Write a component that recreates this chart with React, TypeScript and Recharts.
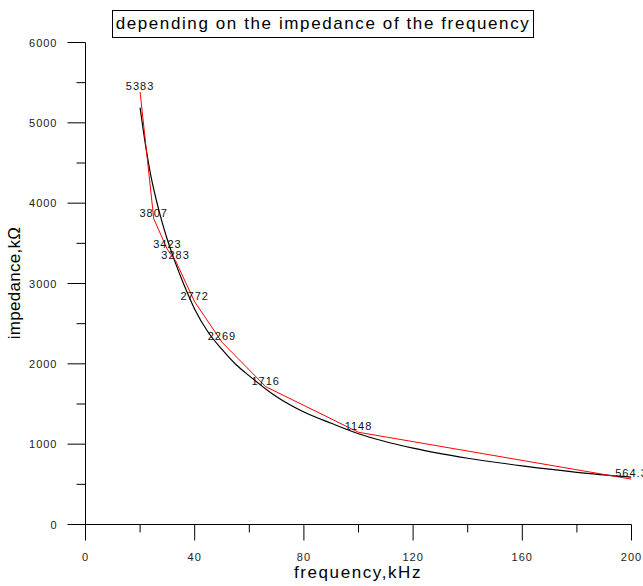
import React from 'react';
import { LineChart, Line, XAxis, YAxis, LabelList, Label } from 'recharts';

// measured points (red)
const measuredFreq = [20, 25, 30, 33, 40, 50, 66, 100, 200];
const measuredImp = [5383, 3807, 3423, 3283, 2772, 2269, 1716, 1148, 564.3];

// fitted curve (black)
const fitFreq = [20, 22, 24, 26, 28, 30, 33, 36, 40, 45, 50, 55, 60, 70, 80, 90, 100, 120, 140, 160, 180, 200];
const fitImp = [5190, 4720, 4330, 4030, 3770, 3545, 3250, 2990, 2680, 2390, 2180, 1995, 1850, 1590, 1400, 1260, 1130, 950, 825, 730, 650, 590];

const xTicks = [0, 20, 40, 60, 80, 100, 120, 140, 160, 180, 200];
const xLabelTicks = [0, 40, 80, 120, 160, 200];
const yTicks = [0, 500, 1000, 1500, 2000, 2500, 3000, 3500, 4000, 4500, 5000, 5500, 6000];
const yLabelTicks = [0, 1000, 2000, 3000, 4000, 5000, 6000];

const measured = measuredFreq.map((x, i) => ({ x, y: measuredImp[i] }));
const fit = fitFreq.map((x, i) => ({ x, y: fitImp[i] }));

const tickFont = { fontFamily: '"Liberation Sans", Arial, sans-serif', fontSize: 11, letterSpacing: 1, fill: '#222' };
const labelFont = { fontFamily: '"Liberation Sans", Arial, sans-serif', fontSize: 17, letterSpacing: 1.6, fill: '#000' };

const XTick = (props: any) => {
  const { x, y, payload } = props;
  const major = xLabelTicks.includes(payload.value);
  return (
    <g>
      <line x1={x} x2={x} y1={y} y2={y + (major ? 16 : 8)} stroke="#000" />
      {major && (
        <text x={x} y={y + 32} textAnchor="middle" dominantBaseline="central" {...tickFont}>
          {payload.value}
        </text>
      )}
    </g>
  );
};

const YTick = (props: any) => {
  const { x, y, payload } = props;
  const major = yLabelTicks.includes(payload.value);
  return (
    <g>
      <line x1={x - (major ? 18 : 9)} x2={x} y1={y} y2={y} stroke="#000" />
      {major && (
        <text x={x - 28} y={y} textAnchor="end" dominantBaseline="central" {...tickFont}>
          {payload.value}
        </text>
      )}
    </g>
  );
};

export default function App() {
  return (
    <div style={{ position: 'absolute', left: 0, top: 0, width: 643, height: 586, background: '#fff' }}>
      <LineChart
        width={643}
        height={586}
        margin={{ top: 42.5, right: 11.5, left: 0.5, bottom: 0 }}
      >
        <XAxis
          dataKey="x"
          type="number"
          domain={[0, 200]}
          ticks={xTicks}
          interval={0}
          tickSize={0}
          tickMargin={0}
          tickLine={false}
          tick={<XTick />}
          axisLine={{ stroke: '#000' }}
          height={61.5}
          allowDataOverflow
        >
          <Label
            content={() => (
              <text x={358} y={578} textAnchor="middle" {...labelFont}>
                frequency,kHz
              </text>
            )}
          />
        </XAxis>
        <YAxis
          dataKey="y"
          type="number"
          domain={[0, 6000]}
          ticks={yTicks}
          interval={0}
          tickSize={0}
          tickMargin={0}
          tickLine={false}
          tick={<YTick />}
          axisLine={{ stroke: '#000' }}
          width={85}
          allowDataOverflow
        >
          <Label
            content={() => (
              <text x={20} y={283} textAnchor="middle" transform="rotate(-90, 20, 283)" {...labelFont} letterSpacing={0.3}>
                impedance,kΩ
              </text>
            )}
          />
        </YAxis>
        <Line
          data={fit}
          dataKey="y"
          type="monotone"
          stroke="#000"
          strokeWidth={1.2}
          dot={false}
          isAnimationActive={false}
        />
        <Line
          data={measured}
          dataKey="y"
          type="linear"
          stroke="#ff0000"
          strokeWidth={1}
          dot={false}
          isAnimationActive={false}
        >
          <LabelList dataKey="y" position="top" offset={2} {...tickFont} fill="#111" />
        </Line>
      </LineChart>
      <div
        style={{
          position: 'absolute',
          left: 112,
          top: 10,
          width: 422,
          height: 28,
          boxSizing: 'border-box',
          border: '1px solid #000',
          fontFamily: '"Liberation Sans", Arial, sans-serif',
          fontSize: 17,
          letterSpacing: 1.6,
          lineHeight: '26px',
          textAlign: 'center',
          whiteSpace: 'nowrap',
          color: '#000',
        }}
      >
        depending on the impedance of the frequency
      </div>
    </div>
  );
}
